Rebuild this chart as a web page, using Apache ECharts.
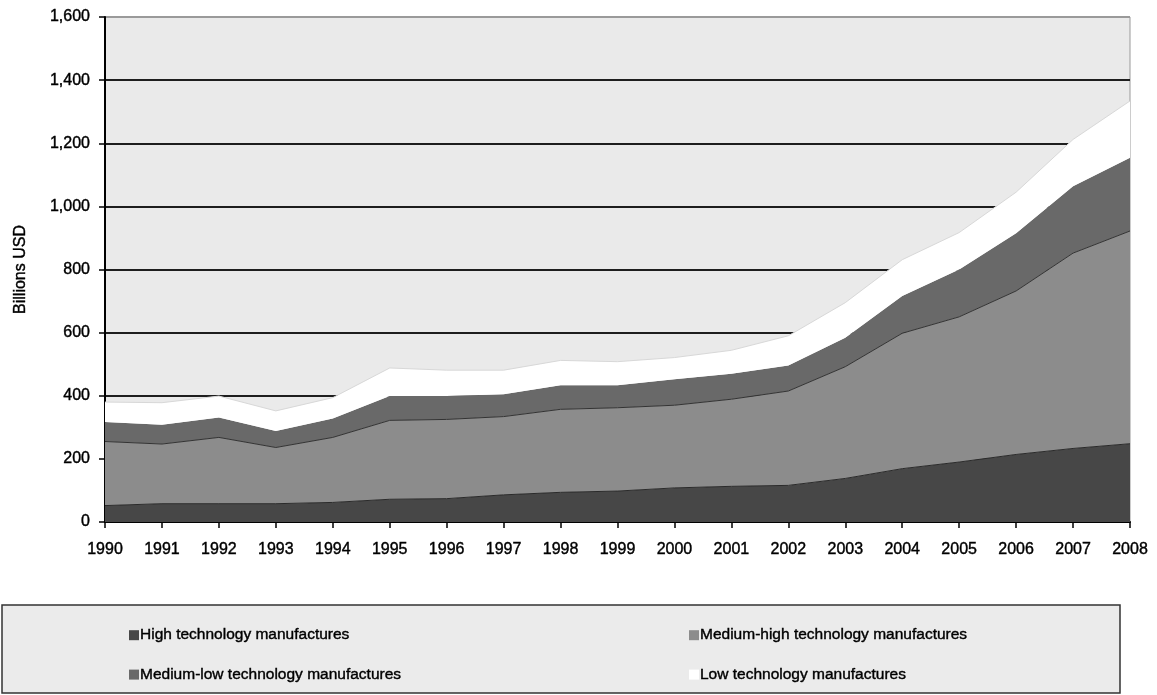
<!DOCTYPE html>
<html>
<head>
<meta charset="utf-8">
<script src="https://cdn.jsdelivr.net/npm/echarts@6/dist/echarts.min.js"></script>
<style>
  html, body { margin: 0; padding: 0; background: #fff; }
  #chart { width: 1157px; height: 695px; }
</style>
</head>
<body>
<div id="chart"></div>
<script>
// 数据
let years = ['1990','1991','1992','1993','1994','1995','1996','1997','1998','1999',
             '2000','2001','2002','2003','2004','2005','2006','2007','2008'];
let high    = [52, 58, 58, 58, 62, 72, 74, 86, 94, 98, 108, 113, 116, 138, 169, 190, 214, 233, 248];
let medHigh = [203, 189, 210, 178, 206, 250, 251, 248, 263, 264, 262, 276, 299, 354, 429, 460, 518, 619, 674];
let medLow  = [62, 61, 63, 52, 60, 77, 74, 71, 76, 71, 82, 81, 81, 92, 118, 150, 183, 212, 232];
let low     = [63, 70, 68, 64, 66, 89, 82, 76, 79, 75, 69, 74, 94, 111, 115, 117, 130, 148, 180];
let yTicks  = [0, 200, 400, 600, 800, 1000, 1200, 1400, 1600];

let font = 'Liberation Sans';
let gridColors = yTicks.map(function (v) { return v === 1600 ? '#9a9a9a' : '#1e1e1e'; });
// 字体加粗一点
let txt = { fontFamily: font, fontSize: 16, color: '#000', textBorderColor: '#000', textBorderWidth: 0.4 };

function area(name, data, fill, line) {
    return {
        name: name,
        type: 'line',
        stack: 'total',
        data: data,
        symbol: 'none',
        smooth: false,
        itemStyle: { color: fill },
        lineStyle: { width: line ? 1 : 0, color: line || fill },
        areaStyle: { color: fill, opacity: 1 }
    };
}

let option = {
    animation: false,
    backgroundColor: '#ffffff',
    textStyle: { fontFamily: font },
    grid: {
        left: 105, right: 27, top: 17, bottom: 173,
        show: true,
        backgroundColor: '#eaeaea',
        borderColor: '#9a9a9a',
        borderWidth: 1
    },
    graphic: [{
        type: 'rect',
        shape: { x: 2, y: 605, width: 1118, height: 88 },
        style: { fill: '#ebebeb', stroke: '#333', lineWidth: 1.5 },
        z: -10
    }],
    legend: [{
        left: 124, top: 622,
        orient: 'vertical',
        itemGap: 23,
        itemWidth: 10, itemHeight: 10,
        icon: 'rect',
        textStyle: Object.assign({}, txt, { fontSize: 15.5, padding: [0, 0, 0, -4] }),
        data: ['High technology manufactures', 'Medium-low technology manufactures']
    }, {
        left: 684, top: 622,
        orient: 'vertical',
        itemGap: 23,
        itemWidth: 10, itemHeight: 10,
        icon: 'rect',
        textStyle: Object.assign({}, txt, { fontSize: 15.5, padding: [0, 0, 0, -4] }),
        data: ['Medium-high technology manufactures', 'Low technology manufactures']
    }],
    xAxis: {
        type: 'category',
        boundaryGap: false,
        data: years,
        axisLine: { lineStyle: { color: '#000', width: 2 } },
        axisTick: { show: true, inside: false, length: 6, interval: 0, lineStyle: { color: '#000', width: 1.5 } },
        axisLabel: Object.assign({ interval: 0, margin: 20 }, txt),
        splitLine: { show: false }
    },
    yAxis: {
        type: 'value',
        min: 0, max: 1600, interval: 200,
        name: 'Billions USD',
        nameLocation: 'middle',
        nameRotate: 90,
        nameGap: 76,
        nameTextStyle: txt,
        axisLine: { show: true, lineStyle: { color: '#000', width: 2 } },
        axisTick: { show: true, inside: false, length: 6, lineStyle: { color: '#000', width: 1.5 } },
        axisLabel: Object.assign({
            margin: 15,
            formatter: function (v) { return v.toLocaleString('en-US'); }
        }, txt),
        splitLine: { show: true, lineStyle: { color: gridColors, width: 2 } }
    },
    series: [
        area('High technology manufactures', high, '#474747', '#2a2a2a'),
        area('Medium-high technology manufactures', medHigh, '#8c8c8c', '#333333'),
        area('Medium-low technology manufactures', medLow, '#696969', null),
        area('Low technology manufactures', low, '#ffffff', '#d8d8d8')
    ]
};

let myChart = echarts.init(document.getElementById('chart'));
myChart.setOption(option);
</script>
</body>
</html>
